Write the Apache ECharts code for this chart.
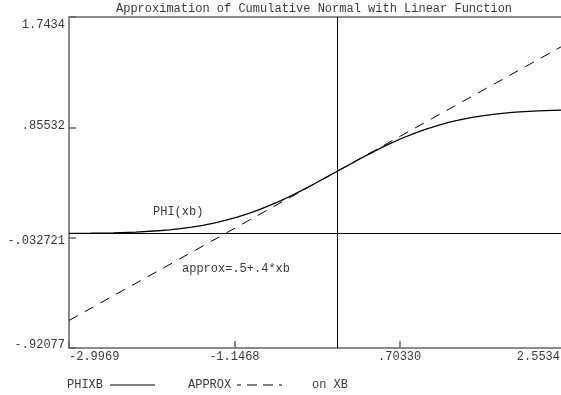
<!DOCTYPE html>
<html>
<head>
<meta charset="utf-8">
<script src="https://cdn.jsdelivr.net/npm/echarts@6/dist/echarts.min.js"></script>
<style>html,body{margin:0;padding:0;background:#fff;overflow:hidden;width:561px;height:395px}#c{width:575px;height:395px}</style>
</head>
<body>
<div id="c"></div>
<script>
const titleText = "Approximation of Cumulative Normal with Linear Function";
const xTickValues = [-2.9969, -1.1468, 0.70330, 2.5534];
const xTickLabels = ["-2.9969", "-1.1468", ".70330", "2.5534"];
const yTickValues = [-0.92077, -0.032721, 0.85532, 1.7434];
const yTickLabels = ["-.92077", "-.032721", ".85532", "1.7434"];
const xb = [-2.9969, -2.75, -2.5, -2.25, -2, -1.875, -1.75, -1.625, -1.5, -1.375, -1.25, -1.125, -1, -0.875, -0.75, -0.625, -0.5, -0.375, -0.25, -0.125, 0, 0.125, 0.25, 0.375, 0.5, 0.625, 0.75, 0.875, 1, 1.125, 1.25, 1.375, 1.5, 1.625, 1.75, 1.875, 2, 2.25, 2.5, 2.5534];
const phixb = [0.0014, 0.0030, 0.0062, 0.0122, 0.0228, 0.0304, 0.0401, 0.0521, 0.0668, 0.0846, 0.1056, 0.1303, 0.1587, 0.1908, 0.2266, 0.2660, 0.3085, 0.3538, 0.4013, 0.4503, 0.5000, 0.5497, 0.5987, 0.6462, 0.6915, 0.7340, 0.7734, 0.8092, 0.8413, 0.8697, 0.8944, 0.9154, 0.9332, 0.9479, 0.9599, 0.9696, 0.9772, 0.9878, 0.9938, 0.9947];
const approxX = [-2.9969, 0, 2.5534];
const approxY = [-0.699, 0.500, 1.521];

const FONT = "'Courier New', 'Liberation Mono', 'DejaVu Sans Mono', monospace";
const TXT = "#3a3a3a";
const F12 = "12px 'Courier New', 'Liberation Mono', 'DejaVu Sans Mono', monospace";

const chart = echarts.init(document.getElementById('c'));
chart.setOption({
  animation: false,
  backgroundColor: '#fff',
  textStyle: {fontFamily: FONT, fontSize: 12, color: TXT},
  title: {
    text: titleText, left: 116, top: 3, padding: 0,
    textStyle: {fontFamily: FONT, fontSize: 12, fontWeight: 'normal', color: TXT}
  },
  grid: {left: 69, top: 17, right: 10, bottom: 47, show: true, borderColor: '#666', borderWidth: 1.5, backgroundColor: 'transparent'},
  xAxis: {
    type: 'value', min: xTickValues[0], max: xTickValues[3],
    axisLine: {show: false, onZero: false},
    splitLine: {show: false},
    axisTick: {show: true, inside: true, length: 7, customValues: xTickValues, lineStyle: {color: '#666', width: 1.5}},
    axisLabel: {
      customValues: xTickValues, margin: 3,
      fontFamily: FONT, fontSize: 12, color: TXT,
      alignMinLabel: 'left', alignMaxLabel: 'right',
      formatter: function (v) {
        const i = xTickValues.findIndex(t => Math.abs(t - v) < 1e-6);
        const s = i >= 0 ? xTickLabels[i] : '';
        return i === 3 ? '{r|' + s + '}' : s;
      },
      rich: {r: {fontFamily: FONT, fontSize: 12, color: TXT, padding: [0, 5, 0, 0]}}
    }
  },
  yAxis: {
    type: 'value', min: yTickValues[0], max: yTickValues[3],
    axisLine: {show: false, onZero: false},
    splitLine: {show: false},
    axisTick: {show: true, inside: true, length: 7, customValues: yTickValues, lineStyle: {color: '#666', width: 1.5}},
    axisLabel: {
      customValues: yTickValues, margin: 4,
      fontFamily: FONT, fontSize: 12, color: TXT,
      formatter: function (v) {
        const i = yTickValues.findIndex(t => Math.abs(t - v) < 1e-6);
        if (i < 0) return '';
        return '{s' + i + '|' + yTickLabels[i] + '}';
      },
      rich: {
        s0: {fontFamily: FONT, fontSize: 12, color: TXT, padding: [0, 0, 6, 0]},
        s1: {fontFamily: FONT, fontSize: 12, color: TXT, padding: [6, 0, 0, 0]},
        s2: {fontFamily: FONT, fontSize: 12, color: TXT, padding: [0, 0, 4, 0]},
        s3: {fontFamily: FONT, fontSize: 12, color: TXT, padding: [16, 0, 0, 0]}
      }
    }
  },
  series: [
    {
      name: 'PHIXB', type: 'line', smooth: false, showSymbol: false, silent: true,
      data: xb.map((x, i) => [x, phixb[i]]),
      lineStyle: {color: '#000', width: 1.3},
      markLine: {
        silent: true, symbol: 'none', label: {show: false},
        lineStyle: {color: '#000', width: 1, type: 'solid'},
        data: [{xAxis: 0}, {yAxis: 0}]
      }
    },
    {
      name: 'APPROX', type: 'line', showSymbol: false, silent: true,
      data: approxX.map((x, i) => [x, approxY[i]]),
      lineStyle: {color: '#000', width: 1, type: [10, 8]}
    }
  ],
  graphic: [
    {type: 'text', left: 153, top: 206, style: {text: 'PHI(xb)', font: F12, fill: TXT}},
    {type: 'text', left: 182, top: 263, style: {text: 'approx=.5+.4*xb', font: F12, fill: TXT}},
    {type: 'text', left: 67, top: 379, style: {text: 'PHIXB', font: F12, fill: TXT}},
    {type: 'line', shape: {x1: 110, y1: 385, x2: 155, y2: 385}, style: {stroke: '#000', lineWidth: 1}},
    {type: 'text', left: 188, top: 379, style: {text: 'APPROX', font: F12, fill: TXT}},
    {type: 'line', shape: {x1: 237, y1: 385, x2: 282, y2: 385}, style: {stroke: '#000', lineWidth: 1, lineDash: [4, 6, 10, 6, 10, 6]}},
    {type: 'text', left: 312, top: 379, style: {text: 'on XB', font: F12, fill: TXT}}
  ]
});
</script>
</body>
</html>
